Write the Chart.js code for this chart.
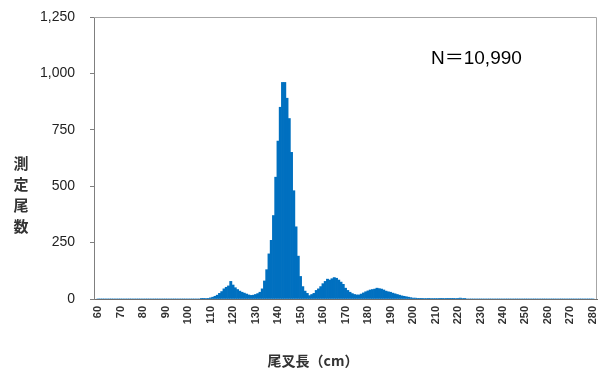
<!DOCTYPE html>
<html>
<head>
<meta charset="utf-8">
<script src="https://cdn.jsdelivr.net/npm/chart.js@4.4.1/dist/chart.umd.min.js"></script>
<style>
html, body { margin: 0; padding: 0; background: #fff; }
#wrap { width: 599px; height: 375px; }
</style>
</head>
<body>
<div id="wrap"><canvas id="chart-area"></canvas></div>
<script>
// fork length classes (cm), one per 1 cm starting at firstLength
var firstLength = 60;
var counts = [
    0, 0, 0, 0, 0, 0, 0, 0, 0, 0,            // 60-69
    0, 0, 0, 0, 0, 0, 0, 0, 0, 0,            // 70-79
    0, 0, 0, 0, 0, 0, 0, 0, 0, 0,            // 80-89
    0, 0, 0, 0, 0, 0, 0, 0, 0, 0,            // 90-99
    0, 0, 0, 0, 0, 0, 1, 1, 2, 3,            // 100-109
    5, 8, 12, 17, 25, 33, 45, 52, 58, 78,    // 110-119
    62, 50, 42, 35, 30, 26, 22, 18, 16, 17,  // 120-129
    20, 24, 30, 45, 80, 130, 200, 260, 370, 540,      // 130-139
    700, 850, 960, 960, 890, 800, 650, 480, 320, 190, // 140-149
    100, 55, 35, 25, 15, 20, 25, 38, 45, 55, // 150-159
    68, 78, 88, 84, 90, 95, 92, 84, 75, 65,  // 160-169
    48, 38, 30, 24, 20, 18, 18, 22, 27, 32,  // 170-179
    36, 40, 42, 44, 48, 46, 44, 40, 35, 32,  // 180-189
    30, 26, 23, 20, 17, 14, 12, 10, 8, 6,    // 190-199
    4, 4, 3, 3, 3, 2, 2, 3, 2, 2,            // 200-209
    2, 2, 1, 1, 2, 1, 1, 1, 1, 2,            // 210-219
    1, 4, 2, 1, 0, 0, 0, 0, 0, 0,            // 220-229
    0, 0, 0, 0, 0, 0, 0, 0, 0, 0,            // 230-239
    0, 0, 0, 0, 0, 0, 0, 0, 0, 0,            // 240-249
    0, 0, 0, 0, 0, 0, 0, 0, 0, 0,            // 250-259
    0, 0, 0, 0, 0, 0, 0, 0, 0, 0,            // 260-269
    0, 0, 0, 0, 0, 0, 0, 0, 0, 0,            // 270-279
    0                                        // 280
];
var xTicks = [60, 70, 80, 90, 100, 110, 120, 130, 140, 150, 160, 170, 180,
    190, 200, 210, 220, 230, 240, 250, 260, 270, 280];
var yTicks = [0, 250, 500, 750, 1000, 1250];
var sampleLabel = 'N＝10,990';
var xTitle = '尾叉長（cm）';
var yTitle = '測定尾数';

var points = [];
for (var i = 0; i < counts.length; i++) {
    points.push({x: firstLength + i, y: counts[i]});
}

var framePlugin = {
    id: 'frame',
    afterDraw: function (chart) {
        var ctx = chart.ctx;
        var a = chart.chartArea;
        ctx.save();
        // top and right edge of the plot box
        ctx.strokeStyle = '#a6a6a6';
        ctx.lineWidth = 1;
        ctx.beginPath();
        ctx.moveTo(a.left, a.top + 0.5);
        ctx.lineTo(a.right - 0.5, a.top + 0.5);
        ctx.lineTo(a.right - 0.5, a.bottom);
        ctx.stroke();

        ctx.fillStyle = '#000';
        ctx.font = '19px "Liberation Sans", "Noto Sans CJK JP", sans-serif';
        ctx.textAlign = 'left';
        ctx.textBaseline = 'middle';
        ctx.fillText(sampleLabel, 431, 59);

        // vertical y title, one character per line
        ctx.fillStyle = '#333';
        ctx.font = 'bold 15px "Noto Sans CJK JP", sans-serif';
        ctx.textAlign = 'center';
        for (var k = 0; k < yTitle.length; k++) {
            ctx.fillText(yTitle.charAt(k), 21, 163 + k * 21);
        }

        ctx.font = 'bold 14px "Noto Sans CJK JP", sans-serif';
        ctx.fillText(xTitle, 313, 361);
        ctx.restore();
    }
};

var config = {
    type: 'bar',
    data: {
        datasets: [{
            data: points,
            backgroundColor: '#0070c0',
            borderWidth: 0,
            barPercentage: 1,
            categoryPercentage: 1
        }]
    },
    options: {
        responsive: true,
        maintainAspectRatio: false,
        animation: false,
        layout: {
            padding: {top: 17, right: 2, left: 0, bottom: 0}
        },
        plugins: {
            legend: {display: false},
            tooltip: {enabled: false}
        },
        scales: {
            x: {
                type: 'linear',
                offset: false,
                min: 58.2,
                max: 281.8,
                afterBuildTicks: function (scale) {
                    scale.ticks = xTicks.map(function (v) { return {value: v}; });
                },
                afterFit: function (scale) {
                    scale.paddingLeft = 0;
                    scale.paddingRight = 0;
                    scale.height = 76;
                },
                grid: {display: false, drawTicks: false},
                border: {display: true, color: '#6f6f6f', width: 1},
                ticks: {
                    autoSkip: false,
                    minRotation: 90,
                    maxRotation: 90,
                    padding: 7,
                    color: '#333',
                    font: {family: '"Liberation Sans", Arial, sans-serif', size: 11, weight: 'bold'}
                }
            },
            y: {
                min: 0,
                max: 1250,
                afterBuildTicks: function (scale) {
                    scale.ticks = yTicks.map(function (v) { return {value: v}; });
                },
                afterFit: function (scale) {
                    scale.width = 94;
                    scale.paddingTop = 0;
                    scale.paddingBottom = 0;
                },
                grid: {
                    display: true,
                    drawOnChartArea: false,
                    drawTicks: true,
                    tickLength: 4,
                    color: '#7f7f7f'
                },
                border: {display: true, color: '#7f7f7f', width: 1},
                ticks: {
                    padding: 15,
                    color: '#222',
                    font: {family: '"Liberation Sans", Arial, sans-serif', size: 14},
                    callback: function (v) { return v.toLocaleString('en-US'); }
                }
            }
        }
    },
    plugins: [framePlugin]
};

var ctx = document.getElementById('chart-area').getContext('2d');
var myChart = new Chart(ctx, config);
</script>
</body>
</html>
